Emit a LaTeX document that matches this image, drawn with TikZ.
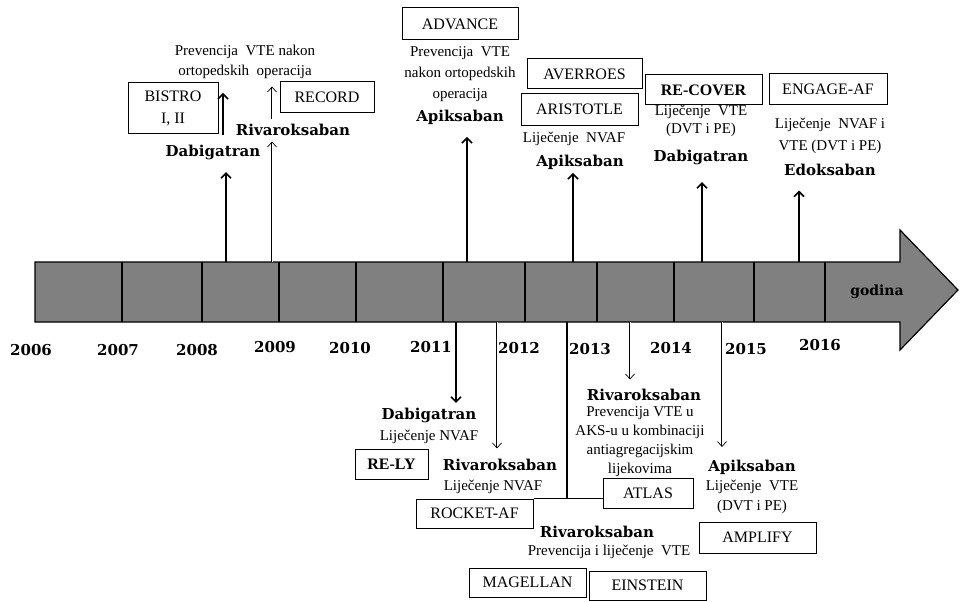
\documentclass[tikz,border=0pt]{standalone}
\usepackage{fontspec}
\setmainfont{Liberation Serif}
\newfontfamily\wideserif{DejaVu Serif}
\usetikzlibrary{arrows.meta}
\tikzstyle{block} = [rectangle, draw, line width=1pt, align=center,
    minimum width=117pt, minimum height=30pt, inner sep=2pt, font=\fontsize{16}{19}\selectfont]
\tikzstyle{block2} = [block, font=\bfseries\fontsize{16}{19}\selectfont]
\tikzstyle{drug} = [inner sep=1pt, font=\wideserif\bfseries\fontsize{15}{17}\selectfont]
\tikzstyle{note} = [inner sep=1pt, align=center, font=\fontsize{15}{20}\selectfont]
\tikzstyle{year} = [inner sep=1pt, font=\wideserif\bfseries\fontsize{15}{17}\selectfont]
\tikzstyle{line} = [draw, line width=1.6pt, -{Straight Barb[length=5pt,width=10pt]}]
\tikzstyle{line2} = [draw, double, double distance=0.9pt, line width=0.7pt, -{Straight Barb[length=5pt,width=9pt]}]
\tikzstyle{line1} = [draw, line width=1.2pt]
\tikzstyle{bar} = [draw, line width=1.2pt, fill=black!50]
\tikzstyle{divider} = [draw, line width=2.4pt]
\begin{document}
\begin{tikzpicture}[x=1pt, y=1pt, node distance=20pt]
    \useasboundingbox (0,0) rectangle (962,-602);

    % Time axis
    \path [bar] (35,-262) -- (900,-262) -- (900,-230) -- (958,-290) -- (900,-350)
        -- (900,-322) -- (35,-322) -- cycle;
    \path [divider] (122,-262) -- (122,-322) (202,-262) -- (202,-322)
        (279,-262) -- (279,-322) (356,-262) -- (356,-322) (443,-262) -- (443,-322)
        (525,-262) -- (525,-322) (597,-262) -- (597,-322) (674,-262) -- (674,-322)
        (754,-262) -- (754,-322) (825,-262) -- (825,-322);
    \node [year, font=\wideserif\bfseries\fontsize{14}{16}\selectfont] (godina) at (877,-292) {godina};

    \node [year] (y06) at (31,-350) {2006};
    \node [year] (y07) at (118,-350) {2007};
    \node [year] (y08) at (197,-350) {2008};
    \node [year] (y09) at (275,-347) {2009};
    \node [year] (y10) at (350,-348) {2010};
    \node [year] (y11) at (431,-347) {2011};
    \node [year] (y12) at (519,-348) {2012};
    \node [year] (y13) at (590,-349) {2013};
    \node [year] (y14) at (671,-348) {2014};
    \node [year] (y15) at (746,-349) {2015};
    \node [year] (y16) at (820,-345) {2016};

    % Place nodes above the axis
    \node [block, minimum width=90pt, minimum height=50pt, font=\fontsize{16}{22}\selectfont] (bistro) at (173,-108) {BISTRO\\I, II};
    \node [drug] (dab08) at (213,-152) {Dabigatran};
    \node [note] (prev09) at (245,-62) {Prevencija \ VTE nakon\\ortopedskih \ operacija};
    \node [block, minimum width=94pt, minimum height=31pt] (record) at (327,-97.5) {RECORD};
    \node [drug] (riv09) at (293,-130) {Rivaroksaban};
    \node [note, font=\fontsize{15}{21}\selectfont] (prev11) at (460,-74.5) {Prevencija \ VTE\\nakon ortopedskih\\operacija};
    \node [block, above of=prev11, node distance=50.5pt, minimum width=116pt, minimum height=32pt] (advance) {ADVANCE};
    \node [drug, below of=prev11, node distance=42.5pt] (api11) {Apiksaban};
    \node [block, minimum width=115pt] (averroes) at (584.5,-74) {AVERROES};
    \node [block, minimum height=31pt] (aristotle) at (579.5,-109.5) {ARISTOTLE};
    \node [note] (lij13) at (574,-139) {Liječenje \ NVAF};
    \node [drug] (api13) at (580,-162) {Apiksaban};
    \node [block2] (recover) at (703.5,-90) {RE-COVER};
    \node [note, font=\fontsize{15}{18}\selectfont] (lij14) at (701,-121) {Liječenje \ VTE\\(DVT i PE)};
    \node [drug, below of=lij14, node distance=36pt] (dab14) {Dabigatran};
    \node [block, minimum width=118pt, minimum height=31pt] (engage) at (828,-89.5) {ENGAGE-AF};
    \node [note, font=\fontsize{15}{22}\selectfont] (lij16) at (830,-136) {Liječenje \ NVAF i\\VTE (DVT i PE)};
    \node [drug, below of=lij16, node distance=34pt] (edo16) {Edoksaban};

    % Place nodes below the axis
    \node [drug] (dab11) at (429,-415) {Dabigatran};
    \node [note, below of=dab11, node distance=22pt] (lij11) {Liječenje NVAF};
    \node [block2, minimum width=73pt] (rely) at (391.5,-464) {RE-LY};
    \node [drug] (riv12) at (500,-465) {Rivaroksaban};
    \node [note] (lij12) at (493,-487) {Liječenje NVAF};
    \node [block, minimum height=29pt] (rocket) at (474.5,-513.5) {ROCKET-AF};
    \node [drug] (riv13) at (644,-395) {Rivaroksaban};
    \node [note, font=\fontsize{15}{19}\selectfont] (prev13) at (640,-441.5) {Prevencija VTE u\\AKS-u u kombinaciji\\antiagregacijskim\\lijekovima};
    \node [block, minimum width=90pt] (atlas) at (648,-493) {ATLAS};
    \node [drug] (riv1213) at (597,-532) {Rivaroksaban};
    \node [note] (prev1213) at (609,-552) {Prevencija i liječenje \ VTE};
    \node [block, minimum height=29pt] (magellan) at (527.5,-582.5) {MAGELLAN};
    \node [block, minimum height=29pt] (einstein) at (647.5,-585.5) {EINSTEIN};
    \node [drug] (api15) at (752,-467) {Apiksaban};
    \node [note] (lij15) at (752,-497) {Liječenje \ VTE\\(DVT i PE)};
    \node [block, minimum height=31pt] (amplify) at (757.5,-537.5) {AMPLIFY};

    % Points on the axis
    \coordinate (t08) at (226,-262);
    \coordinate (t09) at (272,-262);
    \coordinate (t11) at (467,-262);
    \coordinate (t13) at (573,-262);
    \coordinate (t14) at (702,-262);
    \coordinate (t16) at (799,-262);
    \coordinate (d11) at (456,-322);
    \coordinate (d12) at (497,-322);
    \coordinate (d1213) at (567,-322);
    \coordinate (d13) at (630,-322);
    \coordinate (d15) at (722,-322);

    % Draw edges
    \path [line, shorten >=11.5pt] (t08) -- (t08 |- dab08.south);
    \path [line] ([xshift=10pt,yshift=8.5pt]dab08.north) -- ++(0,42);
    \path [line2, shorten >=4.5pt] (t09) -- (t09 |- riv09.south);
    \path [line2] ([xshift=-21pt,yshift=3.5pt]riv09.north) -- ++(0,33);
    \path [line, shorten >=11.5pt] (t11) -- (t11 |- api11.south);
    \path [line, shorten >=2.5pt] (t13) -- (t13 |- api13.south);
    \path [line, shorten >=16.5pt] (t14) -- (t14 |- dab14.south);
    \path [line, shorten >=13.5pt] (t16) -- (t16 |- edo16.south);
    \path [line, shorten >=3.5pt] (d11) -- (d11 |- dab11.north);
    \path [line2, shorten >=9.5pt] (d12) -- (d12 |- riv12.north);
    \path [line1] (d1213) -- (d1213 |- rocket.north);
    \path [line1] (rocket.north east) -- (rocket.north east -| atlas.west);
    \path [line2, shorten >=8.5pt] (d13) -- (d13 |- riv13.north);
    \path [line2, shorten >=11.5pt] (d15) -- (d15 |- api15.north);
\end{tikzpicture}
\end{document}
